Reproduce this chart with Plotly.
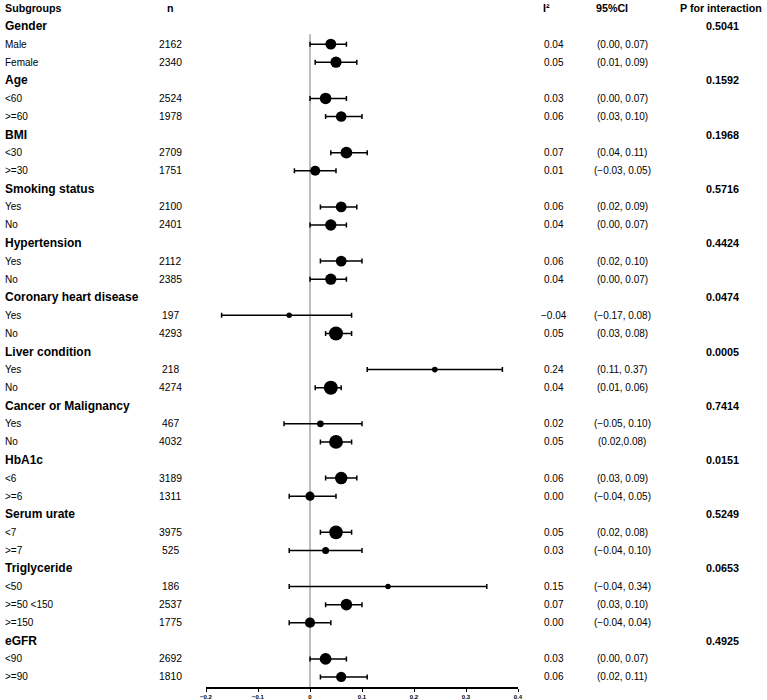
import plotly.graph_objects as go
import math

# ---- data ----
groups = ["Gender", "Age", "BMI", "Smoking status", "Hypertension",
          "Coronary heart disease", "Liver condition", "Cancer or Malignancy",
          "HbA1c", "Serum urate", "Triglyceride", "eGFR"]
p_interaction = ["0.5041", "0.1592", "0.1968", "0.5716", "0.4424", "0.0474",
                 "0.0005", "0.7414", "0.0151", "0.5249", "0.0653", "0.4925"]
subgroups = [["Male", "Female"], ["<60", ">=60"], ["<30", ">=30"], ["Yes", "No"],
             ["Yes", "No"], ["Yes", "No"], ["Yes", "No"], ["Yes", "No"],
             ["<6", ">=6"], ["<7", ">=7"], ["<50", ">=50 <150", ">=150"], ["<90", ">=90"]]
n_values = [[2162, 2340], [2524, 1978], [2709, 1751], [2100, 2401], [2112, 2385],
            [197, 4293], [218, 4274], [467, 4032], [3189, 1311], [3975, 525],
            [186, 2537, 1775], [2692, 1810]]
estimates = [[0.04, 0.05], [0.03, 0.06], [0.07, 0.01], [0.06, 0.04], [0.06, 0.04],
             [-0.04, 0.05], [0.24, 0.04], [0.02, 0.05], [0.06, 0.00], [0.05, 0.03],
             [0.15, 0.07, 0.00], [0.03, 0.06]]
ci_low = [[0.00, 0.01], [0.00, 0.03], [0.04, -0.03], [0.02, 0.00], [0.02, 0.00],
          [-0.17, 0.03], [0.11, 0.01], [-0.05, 0.02], [0.03, -0.04], [0.02, -0.04],
          [-0.04, 0.03, -0.04], [0.00, 0.02]]
ci_high = [[0.07, 0.09], [0.07, 0.10], [0.11, 0.05], [0.09, 0.07], [0.10, 0.07],
           [0.08, 0.08], [0.37, 0.06], [0.10, 0.08], [0.09, 0.05], [0.08, 0.10],
           [0.34, 0.10, 0.04], [0.07, 0.11]]
ci_text = [["(0.00, 0.07)", "(0.01, 0.09)"], ["(0.00, 0.07)", "(0.03, 0.10)"],
           ["(0.04, 0.11)", "(\u22120.03, 0.05)"], ["(0.02, 0.09)", "(0.00, 0.07)"],
           ["(0.02, 0.10)", "(0.00, 0.07)"], ["(\u22120.17, 0.08)", "(0.03, 0.08)"],
           ["(0.11, 0.37)", "(0.01, 0.06)"], ["(\u22120.05, 0.10)", "(0.02,0.08)"],
           ["(0.03, 0.09)", "(\u22120.04, 0.05)"], ["(0.02, 0.08)", "(\u22120.04, 0.10)"],
           ["(\u22120.04, 0.34)", "(0.03, 0.10)", "(\u22120.04, 0.04)"],
           ["(0.00, 0.07)", "(0.02, 0.11)"]]
x_ticks = [-0.2, -0.1, 0, 0.1, 0.2, 0.3, 0.4]

W, H = 767, 700
FONT = "Liberation Sans"
ROW_PX = 18.08
TOP_PX = 8.0
AXIS_PX = 687.0

def px(x):
    return x / W

annotations = []
def txt(x, y, s, size=10, bold=False, anchor="center"):
    annotations.append(dict(
        x=px(x), y=y, xref="paper", yref="y", text=f"<b>{s}</b>" if bold else s,
        showarrow=False, xanchor=anchor, yanchor="middle",
        font=dict(family=FONT, size=size, color="black")))

# header row
txt(3, 0, "Subgroups", 10.7, True, "left")
txt(170, 0, "n", 10.7, True)
txt(546, 0, "I\u00b2", 10.7, True)
txt(612, 0, "95%CI", 10.7, True)
txt(721, 0, "P for interaction", 10.7, True)

pts_y, pts_x, err_p, err_m, sizes = [], [], [], [], []
row = 1
for g, grp in enumerate(groups):
    txt(3, row, grp, 12, True, "left")
    txt(722, row, p_interaction[g], 10.8, True)
    row += 1
    for k, lab in enumerate(subgroups[g]):
        est = estimates[g][k]
        txt(3, row, lab, 10, False, "left")
        txt(170, row, str(n_values[g][k]), 10.3)
        txt(554, row, f"{est:.2f}".replace("-", "\u2212"), 10)
        txt(622, row, ci_text[g][k], 10)
        pts_y.append(row)
        pts_x.append(est)
        err_p.append(ci_high[g][k] - est)
        err_m.append(est - ci_low[g][k])
        sizes.append(3.2 + 0.166 * math.sqrt(n_values[g][k]))
        row += 1

y_top = -TOP_PX / ROW_PX
y_bot = y_top + AXIS_PX / ROW_PX

fig = go.Figure()
fig.add_trace(go.Scatter(
    x=pts_x, y=pts_y, mode="markers",
    marker=dict(color="black", size=sizes, opacity=1, line=dict(width=0)),
    error_x=dict(type="data", symmetric=False, array=err_p, arrayminus=err_m,
                 color="black", thickness=1.5, width=2.5),
    cliponaxis=False, showlegend=False, hoverinfo="skip"))

fig.add_shape(type="line", xref="x", yref="y", x0=0, x1=0, y0=1.45, y1=y_bot,
              line=dict(color="#7a7a7a", width=1), layer="below")

fig.update_layout(
    width=W, height=H, margin=dict(l=0, r=0, t=0, b=H - AXIS_PX, pad=0),
    plot_bgcolor="white", paper_bgcolor="white",
    annotations=annotations,
    xaxis=dict(domain=[206 / W, 518 / W], range=[-0.2, 0.4], tickvals=x_ticks,
               ticktext=[f"<b>{v:g}</b>".replace("-", "\u2212") for v in x_ticks],
               showline=True, linecolor="black", linewidth=1.5, ticks="outside",
               ticklen=3, tickwidth=1, tickcolor="black", showgrid=False, zeroline=False,
               tickfont=dict(family=FONT, size=6, color="black"), automargin=False),
    yaxis=dict(range=[y_bot, y_top], visible=False, showgrid=False, zeroline=False,
               automargin=False),
)

fig.write_html("out.html", config={"displayModeBar": False},
               post_script="document.body.style.margin='0px';document.body.style.overflow='hidden';")
